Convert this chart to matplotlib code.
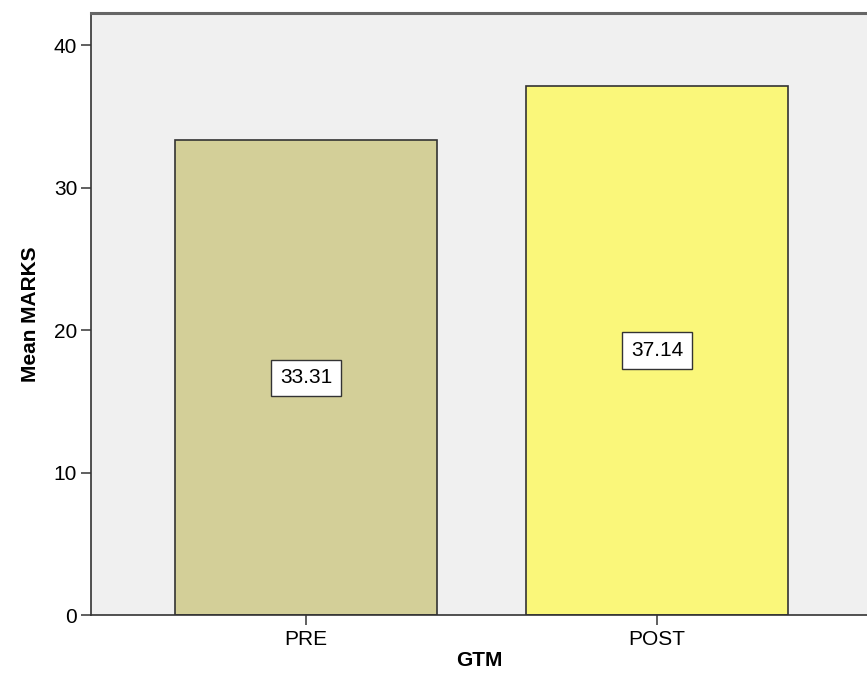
import matplotlib

matplotlib.use("Agg")
import matplotlib.pyplot as plt

plt.rcParams["font.family"] = ["Liberation Sans", "DejaVu Sans"]

groups = ["PRE", "POST"]
means = [33.31, 37.14]
bar_colors = ["#D3CF98", "#FAF77A"]
y_ticks = [0, 10, 20, 30, 40]

fig = plt.figure(figsize=(8.67, 6.74), dpi=100)
ax = fig.add_axes([0.105, 0.0875, 0.895, 0.893])
ax.set_facecolor("#F0F0F0")

x = range(len(groups))
ax.bar(x, means, width=0.746, color=bar_colors, edgecolor="#333333", linewidth=1.2, zorder=2)

for xi, m in zip(x, means):
    ax.text(xi, m / 2, f"{m:.2f}", ha="center", va="center", fontsize=15, zorder=3,
            bbox=dict(boxstyle="square,pad=0.42", facecolor="white", edgecolor="#333333", linewidth=1.0))

ax.set_xlim(-0.6125, 1.598)
ax.set_ylim(0, 42.25)
ax.set_xticks(list(x))
ax.set_xticklabels(groups)
ax.set_yticks(y_ticks)
ax.tick_params(axis="both", labelsize=15, length=7, width=1.2, color="#444444", direction="out")
ax.tick_params(axis="x", pad=4)
ax.tick_params(axis="y", pad=3)

ax.spines["right"].set_visible(False)
ax.spines["top"].set_color("#666666")
ax.spines["top"].set_linewidth(2.2)
for side in ("left", "bottom"):
    ax.spines[side].set_color("#333333")
    ax.spines[side].set_linewidth(1.2)

ax.set_xlabel("GTM", fontsize=15, fontweight="bold", labelpad=1)
ax.set_ylabel("Mean MARKS", fontsize=15, fontweight="bold", labelpad=10)

fig.savefig("out.png", dpi=100)
